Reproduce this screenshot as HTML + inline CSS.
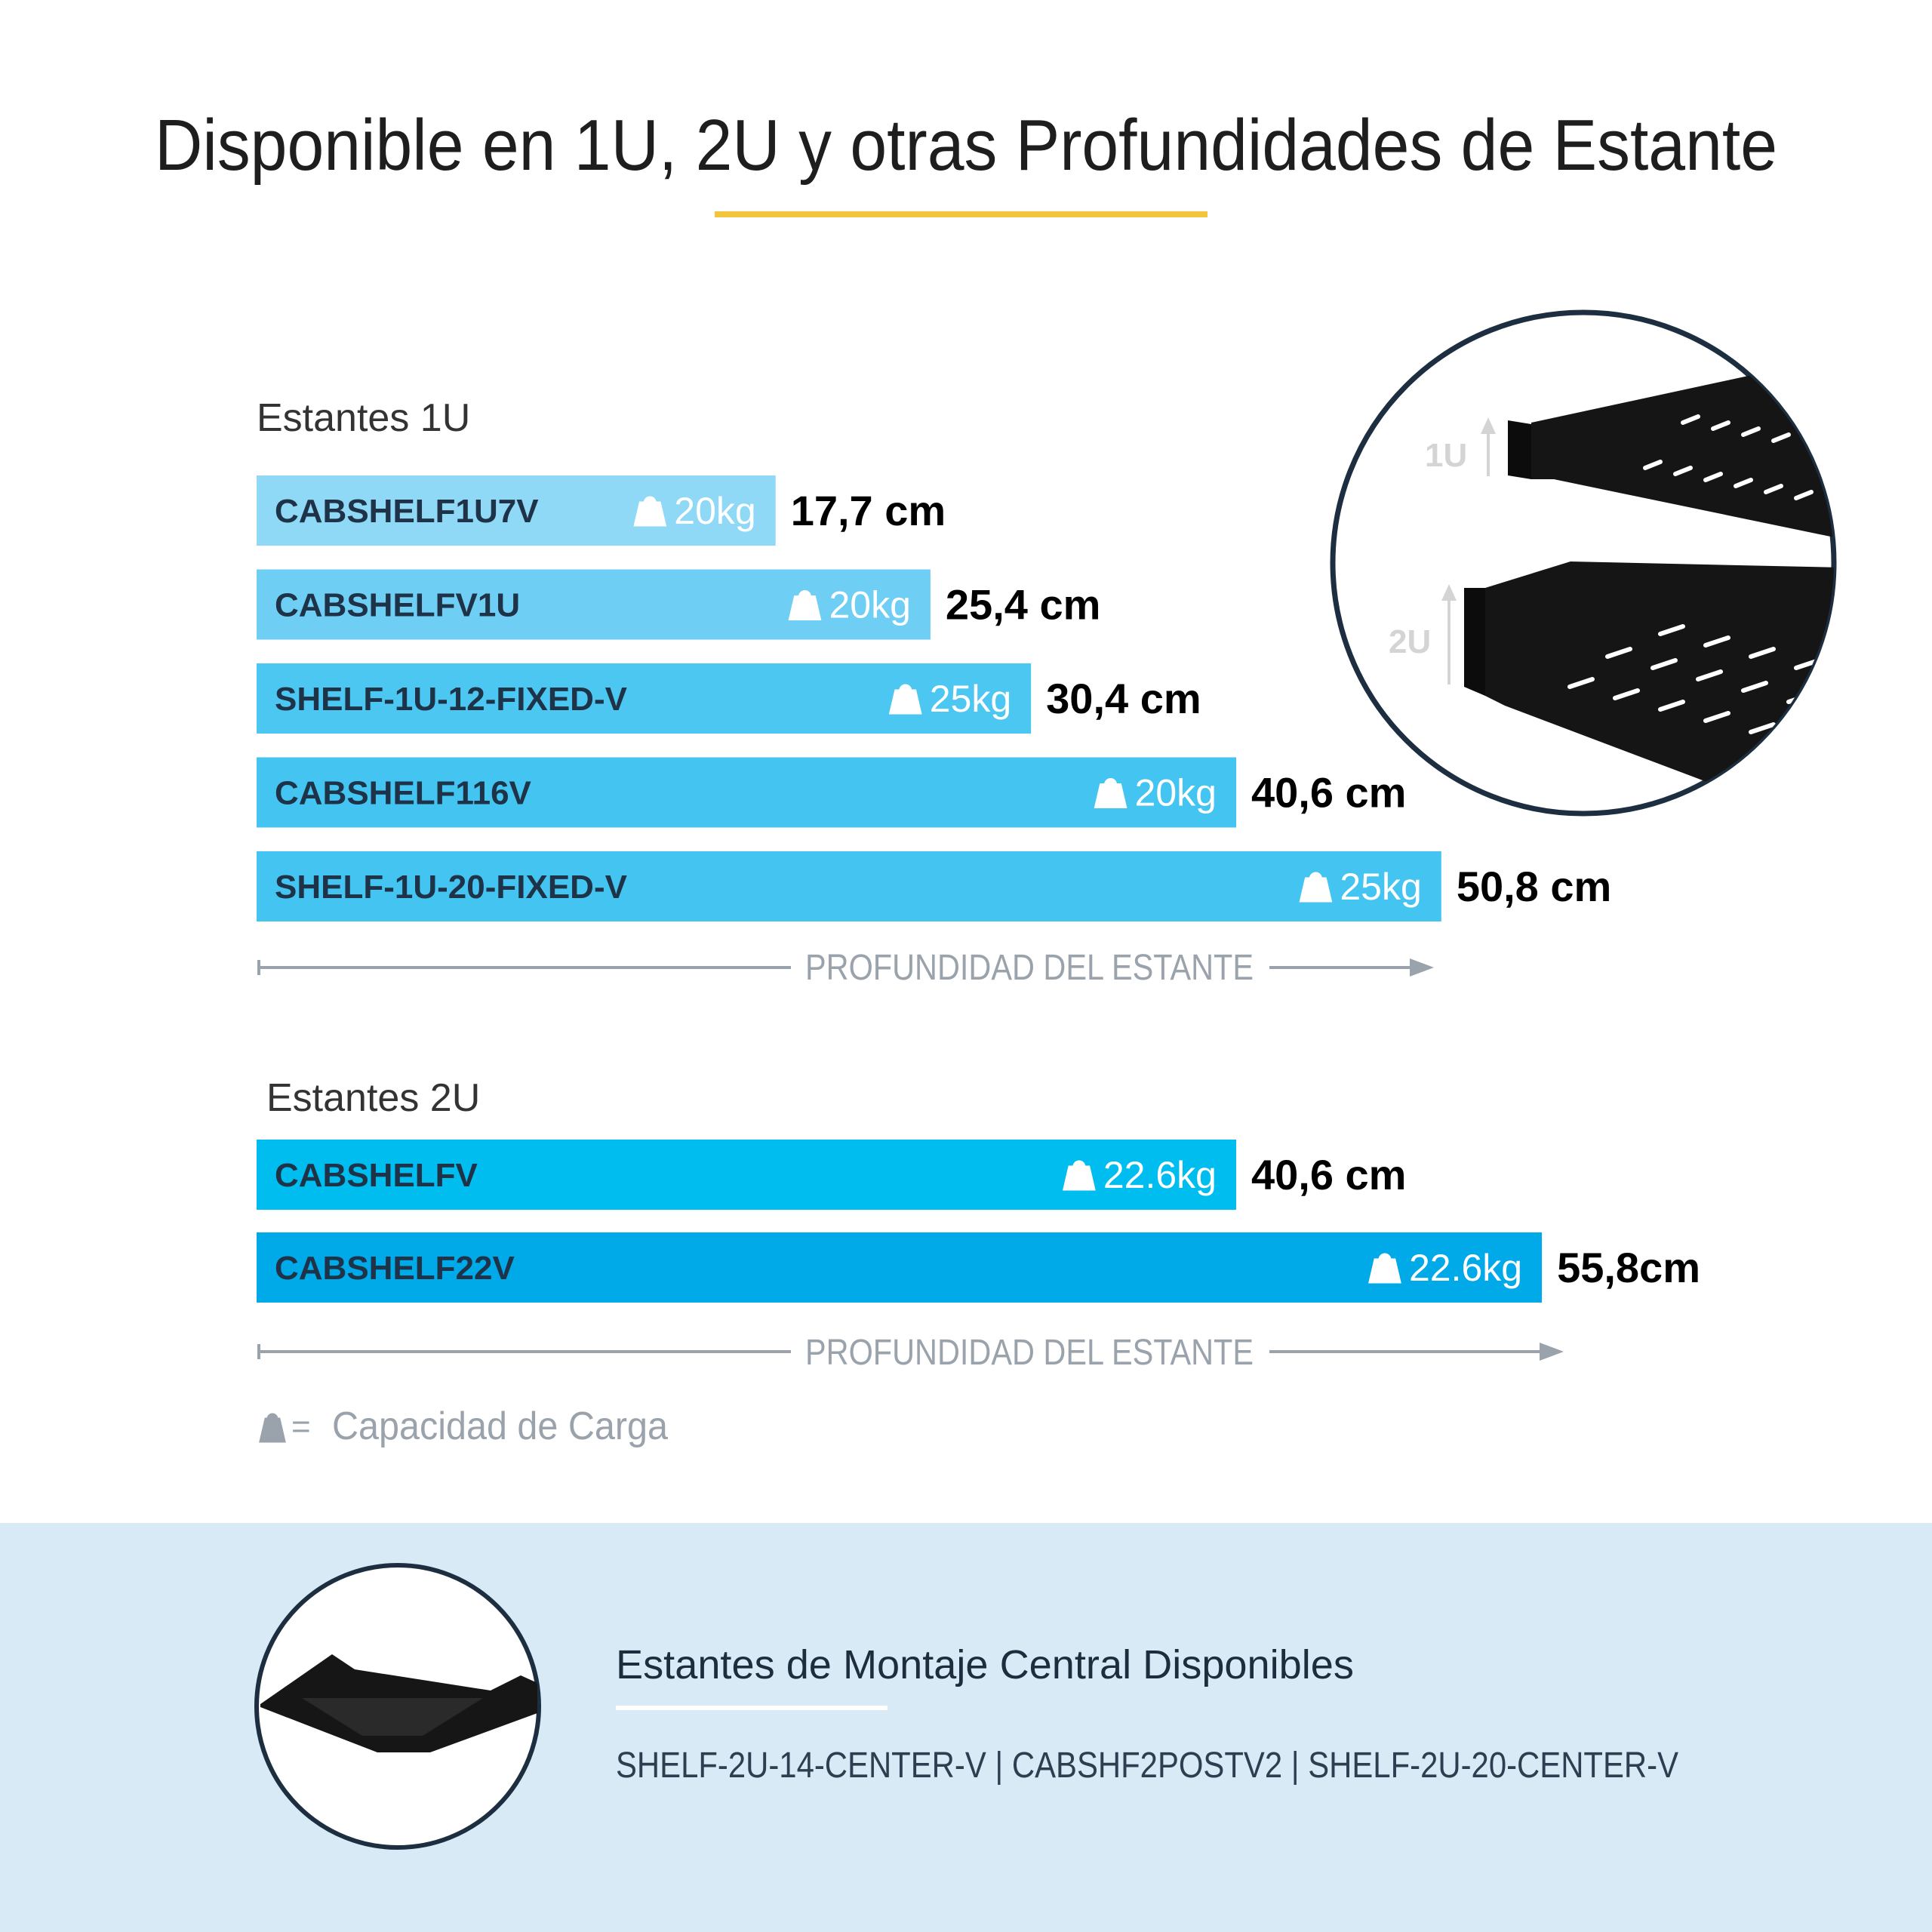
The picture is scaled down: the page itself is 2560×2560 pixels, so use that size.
<!DOCTYPE html>
<html><head><meta charset="utf-8"><style>
html,body{margin:0;padding:0;background:#fff}
svg{display:block}
text{font-family:"Liberation Sans",sans-serif}
</style></head><body>
<svg id="chart" width="2560" height="2560" viewBox="0 0 2560 2560" xmlns="http://www.w3.org/2000/svg">
<defs>
<clipPath id="c1"><circle cx="2098" cy="746" r="332"/></clipPath>
<clipPath id="c2"><circle cx="527" cy="2261" r="187"/></clipPath>
</defs>
<rect width="2560" height="2560" fill="#fff"/>
<text x="1280" y="225" text-anchor="middle" font-size="96" fill="#1e1e1e" textLength="2150" lengthAdjust="spacingAndGlyphs">Disponible en 1U, 2U y otras Profundidades de Estante</text>
<rect x="947" y="280" width="653" height="8" fill="#f2c53d"/>

<text x="340" y="571" font-size="52" fill="#333">Estantes 1U</text>
<text x="353" y="1472" font-size="52" fill="#333">Estantes 2U</text>
<g id="bars"></g>

<g fill="#9aa3ab" stroke="#9aa3ab">
<line x1="343" y1="1282" x2="1048" y2="1282" stroke-width="4"/>
<line x1="343" y1="1272" x2="343" y2="1292" stroke-width="4"/>
<line x1="1682" y1="1282" x2="1880" y2="1282" stroke-width="4"/>
<path d="M1900 1282 L1868 1270 L1868 1294 Z" stroke="none"/>
<text x="1364" y="1298" text-anchor="middle" font-size="48" stroke="none" textLength="594" lengthAdjust="spacingAndGlyphs">PROFUNDIDAD DEL ESTANTE</text>
</g>
<g fill="#9aa3ab" stroke="#9aa3ab">
<line x1="343" y1="1791" x2="1048" y2="1791" stroke-width="4"/>
<line x1="343" y1="1781" x2="343" y2="1801" stroke-width="4"/>
<line x1="1682" y1="1791" x2="2052" y2="1791" stroke-width="4"/>
<path d="M2072 1791 L2040 1779 L2040 1803 Z" stroke="none"/>
<text x="1364" y="1808" text-anchor="middle" font-size="48" stroke="none" textLength="594" lengthAdjust="spacingAndGlyphs">PROFUNDIDAD DEL ESTANTE</text>
</g>
<g>
<path d="M345 1910 L352 1880 L370 1880 L377 1910 Z M355 1880 a6 6 0 0 1 12 0" fill="#9aa3ab" stroke="#9aa3ab" stroke-width="3"/>
<text x="386" y="1905" font-size="44" fill="#9aa3ab">=</text>
<text x="440" y="1907" font-size="52" fill="#9aa3ab" textLength="445" lengthAdjust="spacingAndGlyphs">Capacidad de Carga</text>
</g>

<g>
<circle cx="2098" cy="746" r="332" fill="#fff" stroke="#1c2e40" stroke-width="7"/>
<g clip-path="url(#c1)">
<polygon points="2029,560 2363,488 2363,515 2440,560 2440,714 2059,635 2029,635" fill="#151515"/>
<polygon points="1998,557 2029,562 2029,635 1998,630" fill="#0c0c0c"/>
<polygon points="1968,779 2081,744 2440,752 2440,900 2272,1040 1994,935 1968,922" fill="#151515"/>
<polygon points="1940,779 1968,779 1968,922 1940,910" fill="#0c0c0c"/>
<g stroke="#fff" stroke-width="6" stroke-linecap="round">
<line x1="2180" y1="620" x2="2200" y2="612"/><line x1="2220" y1="628" x2="2240" y2="620"/><line x1="2260" y1="636" x2="2280" y2="628"/><line x1="2300" y1="644" x2="2320" y2="636"/><line x1="2340" y1="652" x2="2360" y2="644"/><line x1="2380" y1="660" x2="2400" y2="652"/>
<line x1="2230" y1="560" x2="2250" y2="552"/><line x1="2270" y1="568" x2="2290" y2="560"/><line x1="2310" y1="576" x2="2330" y2="568"/><line x1="2350" y1="584" x2="2370" y2="576"/>
<line x1="2080" y1="910" x2="2110" y2="900"/><line x1="2140" y1="925" x2="2170" y2="915"/><line x1="2200" y1="940" x2="2230" y2="930"/><line x1="2260" y1="955" x2="2290" y2="945"/><line x1="2320" y1="970" x2="2350" y2="960"/>
<line x1="2130" y1="870" x2="2160" y2="860"/><line x1="2190" y1="885" x2="2220" y2="875"/><line x1="2250" y1="900" x2="2280" y2="890"/><line x1="2310" y1="915" x2="2340" y2="905"/><line x1="2370" y1="930" x2="2400" y2="920"/>
<line x1="2200" y1="840" x2="2230" y2="830"/><line x1="2260" y1="855" x2="2290" y2="845"/><line x1="2320" y1="870" x2="2350" y2="860"/><line x1="2380" y1="885" x2="2410" y2="875"/>
</g>
<g fill="#d4d4d4" stroke="#d4d4d4">
<text x="1888" y="618" font-size="44" font-weight="bold" stroke="none">1U</text>
<line x1="1972" y1="560" x2="1972" y2="631" stroke-width="4"/><path d="M1972 553 L1962 575 L1982 575Z" stroke="none"/>
<text x="1840" y="865" font-size="44" font-weight="bold" stroke="none">2U</text>
<line x1="1920" y1="785" x2="1920" y2="907" stroke-width="4"/><path d="M1920 774 L1910 796 L1930 796Z" stroke="none"/>
</g>
</g>
</g>

<rect x="0" y="2018" width="2560" height="542" fill="#d9eaf7"/>
<g>
<circle cx="527" cy="2261" r="187" fill="#fff" stroke="#1c2e40" stroke-width="6"/>
<g clip-path="url(#c2)">
<polygon points="345,2258 440,2192 470,2212 650,2240 690,2220 712,2230 712,2270 570,2322 500,2322 345,2262" fill="#161616"/>
<polygon points="400,2250 640,2250 560,2300 480,2300" fill="#2a2a2a"/>
</g>
</g>
<text x="816" y="2224" font-size="54" fill="#1d2d3d" textLength="978" lengthAdjust="spacingAndGlyphs">Estantes de Montaje Central Disponibles</text>
<rect x="816" y="2260" width="360" height="6" fill="#fff"/>
<text x="816" y="2355" font-size="48" fill="#2c3e50" textLength="1408" lengthAdjust="spacingAndGlyphs">SHELF-2U-14-CENTER-V | CABSHF2POSTV2 | SHELF-2U-20-CENTER-V</text>
</svg>
<script>
const names = ["CABSHELF1U7V","CABSHELFV1U","SHELF-1U-12-FIXED-V","CABSHELF116V","SHELF-1U-20-FIXED-V","CABSHELFV","CABSHELF22V"];
const depths = [17.7,25.4,30.4,40.6,50.8,40.6,55.8];
const depthLabels = ["17,7 cm","25,4 cm","30,4 cm","40,6 cm","50,8 cm","40,6 cm","55,8cm"];
const loads = ["20kg","20kg","25kg","20kg","25kg","22.6kg","22.6kg"];
const groups = ["1U","1U","1U","1U","1U","2U","2U"];

const colors = ["#8fd8f6","#6fcef4","#4cc7f2","#44c5f1","#44c5f1","#00bdf0","#00a9e8"];
const x0 = 340;
function xScale(v){ return 216 + 26.65*v; }
function yPos(i){ return groups[i]==="1U" ? 630 + i*124.5 : 1510 + (i-5)*123; }
const NS="http://www.w3.org/2000/svg";
const g=document.getElementById('bars');
function mk(tag,attrs,parent){const e=document.createElementNS(NS,tag);for(const k in attrs)e.setAttribute(k,attrs[k]);parent.appendChild(e);return e;}
depths.forEach((d,i)=>{
  const w=xScale(d), y=yPos(i), h=93;
  const grp=mk('g',{},g);
  
  
  mk('rect',{x:x0,y:y,width:w,height:h,fill:colors[i]},grp);
  const t=mk('text',{x:x0+24,y:y+62,'font-size':44,'font-weight':'bold',fill:'#1e3248'},grp);
  t.textContent=names[i];
  const lt=mk('text',{x:x0+w-26,y:y+64,'font-size':50,fill:'#fff','text-anchor':'end'},grp);
  lt.textContent=loads[i];
  const lw=lt.getComputedTextLength();
  const bx=x0+w-26-lw-52;
  mk('path',{d:`M${bx} ${y+66} L${bx+7} ${y+36} L${bx+33} ${y+36} L${bx+40} ${y+66} Z M${bx+13} ${y+36} a7 7 0 0 1 14 0`,fill:'#fff',stroke:'#fff','stroke-width':3},grp);
  const vt=mk('text',{x:x0+w+20,y:y+66,'font-size':56,'font-weight':'bold',fill:'#000'},grp);
  vt.textContent=depthLabels[i];
});
</script>
</body></html>
